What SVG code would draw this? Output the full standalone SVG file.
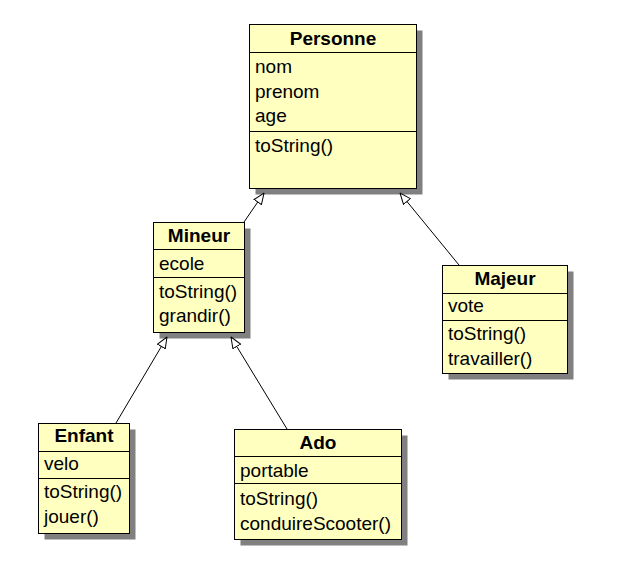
<svg xmlns="http://www.w3.org/2000/svg" width="618" height="564" viewBox="0 0 618 564">
<style>
.shadow{fill:#808080;stroke:none}
.box{fill:#ffffc0;stroke:#000;stroke-width:1}
.div{stroke:#000;stroke-width:1}
.name{font-family:"Liberation Sans",Arial,sans-serif;font-size:19px;font-weight:bold;text-anchor:middle;fill:#000}
.t{font-family:"Liberation Sans",Arial,sans-serif;font-size:19px;fill:#000}
.conn{stroke:#000;stroke-width:1;fill:none;marker-end:url(#gen)}
</style>
<defs>
<marker id="gen" viewBox="0 0 12 10" refX="11.5" refY="5" markerWidth="12" markerHeight="10" markerUnits="userSpaceOnUse" orient="auto">
<path d="M0.5,0.5 L11.5,5 L0.5,9.5 z" fill="#fff" stroke="#000" stroke-width="1"/>
</marker>
</defs>
<rect width="618" height="564" fill="#fff"/>
<g id="Personne">
<rect class="shadow" x="255.5" y="30.5" width="167" height="164"/>
<rect class="box" x="249.5" y="24.5" width="167" height="164"/>
<line class="div" x1="249.5" y1="52.5" x2="416.5" y2="52.5"/>
<line class="div" x1="249.5" y1="131.5" x2="416.5" y2="131.5"/>
<text class="name" x="333" y="45">Personne</text>
<text class="t" x="255" y="73">nom</text>
<text class="t" x="255" y="98">prenom</text>
<text class="t" x="255" y="122">age</text>
<text class="t" x="255" y="152">toString()</text>
</g>
<g id="Mineur">
<rect class="shadow" x="159.5" y="228.5" width="91" height="110"/>
<rect class="box" x="153.5" y="222.5" width="91" height="110"/>
<line class="div" x1="153.5" y1="249.5" x2="244.5" y2="249.5"/>
<line class="div" x1="153.5" y1="277.5" x2="244.5" y2="277.5"/>
<text class="name" x="199" y="242">Mineur</text>
<text class="t" x="159" y="270">ecole</text>
<text class="t" x="159" y="298">toString()</text>
<text class="t" x="159" y="322">grandir()</text>
</g>
<g id="Majeur">
<rect class="shadow" x="448.5" y="271.5" width="125" height="108"/>
<rect class="box" x="442.5" y="265.5" width="125" height="108"/>
<line class="div" x1="442.5" y1="293.5" x2="567.5" y2="293.5"/>
<line class="div" x1="442.5" y1="320.5" x2="567.5" y2="320.5"/>
<text class="name" x="505" y="285">Majeur</text>
<text class="t" x="448" y="312">vote</text>
<text class="t" x="448" y="340">toString()</text>
<text class="t" x="448" y="365">travailler()</text>
</g>
<g id="Enfant">
<rect class="shadow" x="44.5" y="429.5" width="91" height="110"/>
<rect class="box" x="38.5" y="423.5" width="91" height="110"/>
<line class="div" x1="38.5" y1="451.5" x2="129.5" y2="451.5"/>
<line class="div" x1="38.5" y1="478.5" x2="129.5" y2="478.5"/>
<text class="name" x="84" y="442">Enfant</text>
<text class="t" x="44" y="470">velo</text>
<text class="t" x="44" y="498">toString()</text>
<text class="t" x="44" y="523">jouer()</text>
</g>
<g id="Ado">
<rect class="shadow" x="240.5" y="435.5" width="167" height="110"/>
<rect class="box" x="234.5" y="429.5" width="167" height="110"/>
<line class="div" x1="234.5" y1="456.5" x2="401.5" y2="456.5"/>
<line class="div" x1="234.5" y1="483.5" x2="401.5" y2="483.5"/>
<text class="name" x="318" y="449">Ado</text>
<text class="t" x="240" y="477">portable</text>
<text class="t" x="240" y="505">toString()</text>
<text class="t" x="240" y="530">conduireScooter()</text>
</g>
<g id="connectors">
<line class="conn" x1="244" y1="222" x2="264" y2="193"/>
<line class="conn" x1="459" y1="265" x2="400" y2="193"/>
<line class="conn" x1="116" y1="423" x2="167" y2="337"/>
<line class="conn" x1="287" y1="429" x2="231" y2="337"/>
</g>
</svg>
